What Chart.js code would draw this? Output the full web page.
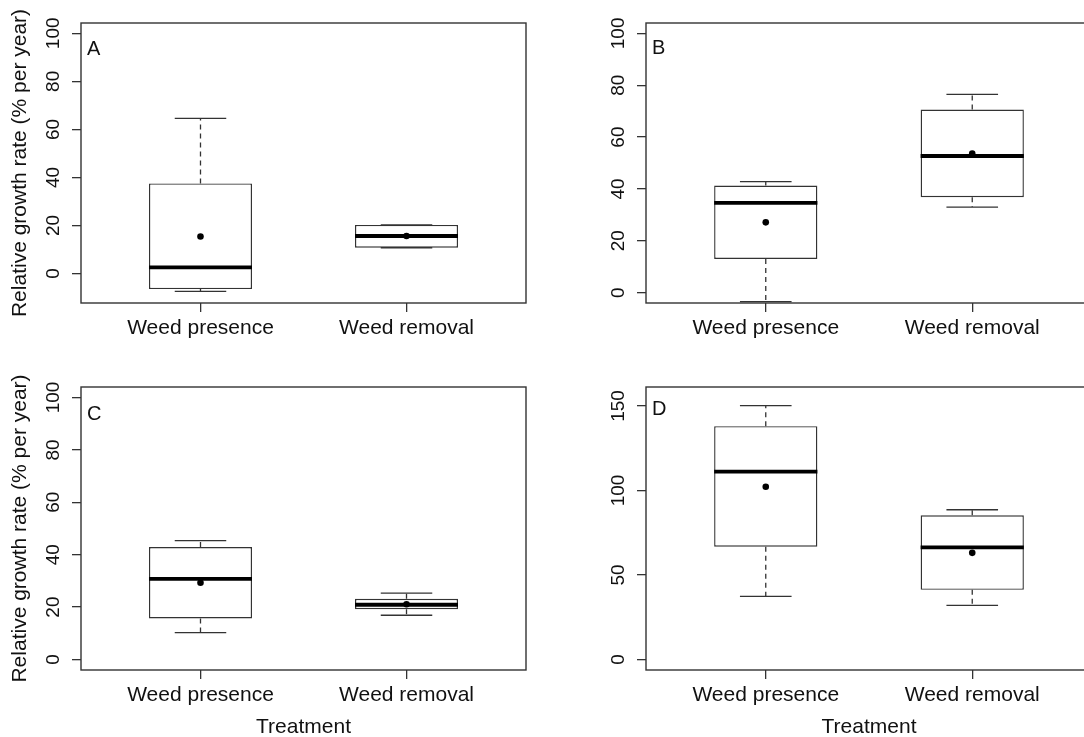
<!DOCTYPE html>
<html>
<head>
<meta charset="utf-8">
<script src="https://cdn.jsdelivr.net/npm/chart.js@4.4.1/dist/chart.umd.min.js"></script>
<style>
html, body { margin: 0; padding: 0; background: #fff; overflow: hidden; width: 1084px; height: 737px; }
canvas { position: absolute; }
</style>
</head>
<body>
<canvas id="panelA" width="542" height="360" style="left:0px;top:0px"></canvas>
<canvas id="panelB" width="560" height="360" style="left:542px;top:0px"></canvas>
<canvas id="panelC" width="542" height="380" style="left:0px;top:360px"></canvas>
<canvas id="panelD" width="560" height="380" style="left:542px;top:360px"></canvas>
<script>
const categories = ["Weed presence", "Weed removal"];

// box stats per panel: lower whisker, q1, median, q3, upper whisker, mean
const aLow = [-7.5, 10.7];
const aQ1 = [-6.5, 10.7];
const aMedian = [2.5, 15.6];
const aQ3 = [37.5, 20.2];
const aHigh = [64.6, 20.2];
const aMean = [15.4, 15.6];

const bLow = [-3.5, 33.0];
const bQ1 = [13.0, 36.8];
const bMedian = [34.6, 52.7];
const bQ3 = [41.3, 70.6];
const bHigh = [42.8, 76.5];
const bMean = [27.1, 53.6];

const cLow = [10.3, 16.9];
const cQ1 = [15.7, 19.2];
const cMedian = [30.8, 20.9];
const cQ3 = [42.9, 23.2];
const cHigh = [45.4, 25.3];
const cMean = [29.3, 21.1];

const dLow = [37.3, 32.0];
const dQ1 = [66.7, 41.2];
const dMedian = [111.1, 66.3];
const dQ3 = [138.0, 85.3];
const dHigh = [150.2, 88.6];
const dMean = [102.2, 63.1];

// axis ranges and tick labels
const yTicksPct = [0, 20, 40, 60, 80, 100];
const yTicksD = [0, 50, 100, 150];
const yRangeA = [-12.3, 104.3];
const yRangeBC = [-4, 104];
const yRangeD = [-6.2, 161.2];
const xRange = [0.42, 2.58];

const FONT = "'Liberation Sans', Arial, Helvetica, sans-serif";
const LINE = "#333";

const boxParts = {
    id: "boxParts",
    afterDatasetDraw(chart, args, opts) {
        if (args.index !== 0) return;
        const xs = chart.scales.x, ys = chart.scales.y;
        const ctx = chart.ctx;
        ctx.save();
        opts.median.forEach((med, i) => {
            const cx = xs.getPixelForValue(i + 1);
            const boxL = xs.getPixelForValue(i + 1 - 0.25);
            const boxR = xs.getPixelForValue(i + 1 + 0.25);
            const capL = xs.getPixelForValue(i + 1 - 0.125);
            const capR = xs.getPixelForValue(i + 1 + 0.125);
            const yLow = ys.getPixelForValue(opts.low[i]);
            const yQ1 = ys.getPixelForValue(opts.q1[i]);
            const yQ3 = ys.getPixelForValue(opts.q3[i]);
            const yHigh = ys.getPixelForValue(opts.high[i]);
            const yMed = ys.getPixelForValue(med);

            // dashed whiskers
            ctx.strokeStyle = LINE;
            ctx.lineWidth = 1.3;
            ctx.setLineDash([5, 4]);
            ctx.beginPath();
            ctx.moveTo(cx, yQ3); ctx.lineTo(cx, yHigh);
            ctx.moveTo(cx, yQ1); ctx.lineTo(cx, yLow);
            ctx.stroke();

            // caps
            ctx.setLineDash([]);
            ctx.beginPath();
            ctx.moveTo(capL, yHigh); ctx.lineTo(capR, yHigh);
            ctx.moveTo(capL, yLow); ctx.lineTo(capR, yLow);
            ctx.stroke();

            // median
            ctx.strokeStyle = "#000";
            ctx.lineWidth = 3.8;
            ctx.beginPath();
            ctx.moveTo(boxL, yMed); ctx.lineTo(boxR, yMed);
            ctx.stroke();
        });
        ctx.restore();
    },
    afterDraw(chart, args, opts) {
        const a = chart.chartArea;
        const ctx = chart.ctx;
        ctx.save();
        ctx.strokeStyle = LINE;
        ctx.lineWidth = 1.4;
        ctx.strokeRect(a.left, a.top, a.right - a.left, a.bottom - a.top);
        ctx.fillStyle = "#111";
        ctx.font = "20px " + FONT;
        ctx.textBaseline = "alphabetic";
        ctx.fillText(opts.letter, a.left + 6, a.top + opts.letterDrop);
        ctx.restore();
    }
};

function makePanel(id, stats, yRange, yTicks, layout) {
    const boxData = categories.map((c, i) => ({ x: i + 1, y: [stats.q1[i], stats.q3[i]] }));
    const meanData = categories.map((c, i) => ({ x: i + 1, y: stats.mean[i] }));

    new Chart(document.getElementById(id), {
        type: "bar",
        data: {
            datasets: [
                {
                    type: "bar",
                    data: boxData,
                    backgroundColor: "#fff",
                    borderColor: LINE,
                    borderWidth: 1.4,
                    borderSkipped: false,
                    barPercentage: 0.5,
                    categoryPercentage: 1,
                    order: 2
                },
                {
                    type: "scatter",
                    data: meanData,
                    pointRadius: 3.3,
                    pointBackgroundColor: "#000",
                    pointBorderWidth: 0,
                    order: 1
                }
            ]
        },
        options: {
            responsive: false,
            animation: false,
            layout: { padding: { left: 0, top: layout.padTop, right: layout.padRight, bottom: 0 } },
            plugins: {
                legend: { display: false },
                tooltip: { enabled: false },
                boxParts: {
                    low: stats.low, q1: stats.q1, median: stats.median, q3: stats.q3, high: stats.high,
                    letter: layout.letter, letterDrop: layout.letterDrop
                }
            },
            scales: {
                x: {
                    type: "linear",
                    min: xRange[0],
                    max: xRange[1],
                    offset: false,
                    afterBuildTicks: s => { s.ticks = categories.map((c, i) => ({ value: i + 1 })); },
                    afterFit: s => { s.height = layout.xHeight; },
                    ticks: {
                        autoSkip: false,
                        maxRotation: 0,
                        padding: 4,
                        color: "#111",
                        font: { family: FONT, size: 21 },
                        callback: (v, i) => categories[i]
                    },
                    grid: { offset: false, drawOnChartArea: false, drawTicks: true, tickLength: 9, color: LINE, lineWidth: 1.3 },
                    border: { display: false },
                    title: {
                        display: layout.xTitle,
                        text: "Treatment",
                        color: "#111",
                        font: { family: FONT, size: 21 },
                        padding: { top: 0, bottom: 0 }
                    }
                },
                y: {
                    type: "linear",
                    min: yRange[0],
                    max: yRange[1],
                    afterBuildTicks: s => { s.ticks = yTicks.map(v => ({ value: v })); },
                    afterFit: s => { s.width = layout.yWidth; },
                    ticks: {
                        autoSkip: false,
                        minRotation: 90,
                        maxRotation: 90,
                        crossAlign: "center",
                        padding: 2,
                        color: "#111",
                        font: { family: FONT, size: 19 }
                    },
                    grid: { drawOnChartArea: false, drawTicks: true, tickLength: 9, color: LINE, lineWidth: 1.3 },
                    border: { display: false },
                    title: {
                        display: layout.yTitle,
                        text: "Relative growth rate (% per year)",
                        color: "#111",
                        font: { family: FONT, size: 21 },
                        padding: { top: 8, bottom: 0 }
                    }
                }
            }
        },
        plugins: [boxParts]
    });
}

makePanel("panelA",
    { low: aLow, q1: aQ1, median: aMedian, q3: aQ3, high: aHigh, mean: aMean },
    yRangeA, yTicksPct,
    { padTop: 23, padRight: 16, yWidth: 81, xHeight: 57, yTitle: true, xTitle: false, letter: "A", letterDrop: 32 });

makePanel("panelB",
    { low: bLow, q1: bQ1, median: bMedian, q3: bQ3, high: bHigh, mean: bMean },
    yRangeBC, yTicksPct,
    { padTop: 23, padRight: 10, yWidth: 104, xHeight: 57, yTitle: false, xTitle: false, letter: "B", letterDrop: 31 });

makePanel("panelC",
    { low: cLow, q1: cQ1, median: cMedian, q3: cQ3, high: cHigh, mean: cMean },
    yRangeBC, yTicksPct,
    { padTop: 27, padRight: 16, yWidth: 81, xHeight: 70, yTitle: true, xTitle: true, letter: "C", letterDrop: 33 });

makePanel("panelD",
    { low: dLow, q1: dQ1, median: dMedian, q3: dQ3, high: dHigh, mean: dMean },
    yRangeD, yTicksD,
    { padTop: 27, padRight: 10, yWidth: 104, xHeight: 70, yTitle: false, xTitle: true, letter: "D", letterDrop: 28 });
</script>
</body>
</html>
